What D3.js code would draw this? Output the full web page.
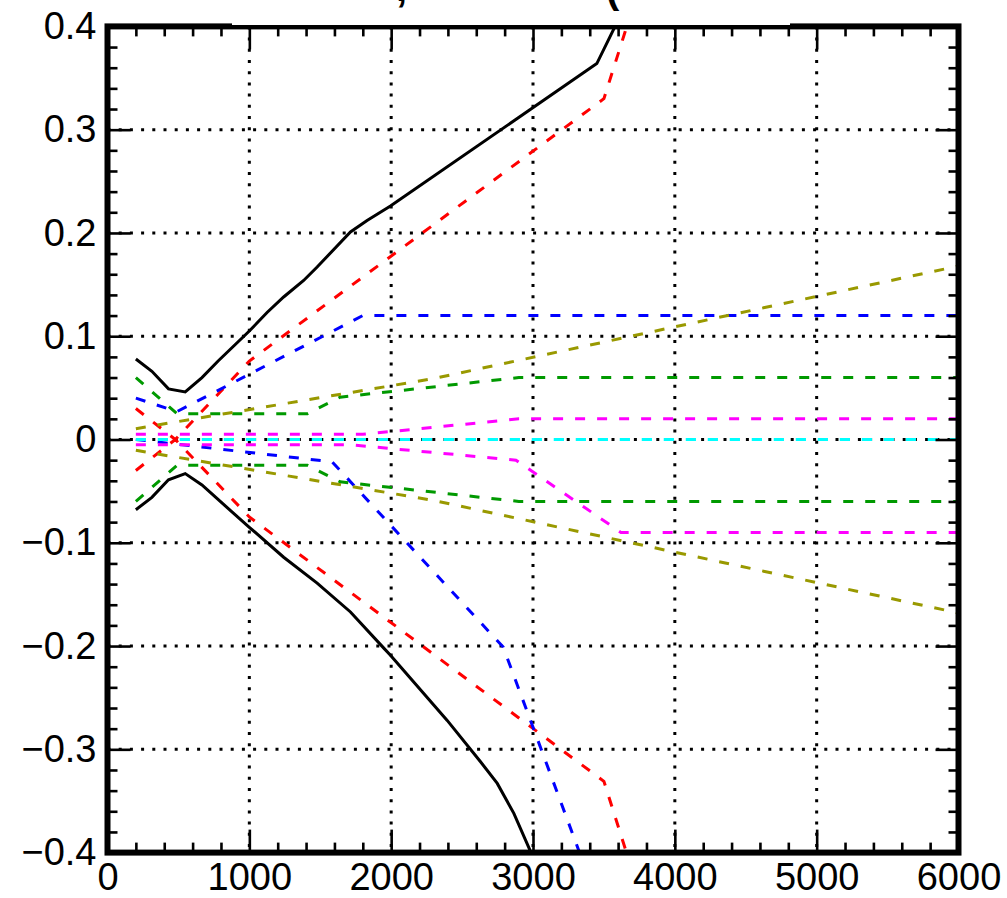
<!DOCTYPE html>
<html>
<head>
<meta charset="utf-8">
<script src="https://cdn.jsdelivr.net/npm/d3@7"></script>
<style>
  html, body { margin: 0; padding: 0; background: #fff; }
  svg { display: block; }
  text { font-family: "Liberation Sans", Arial, Helvetica, sans-serif; }
</style>
</head>
<body>
<svg id="chart" width="1007" height="898"></svg>
<script>
// Axis ticks and labels
const xMajorTicks = [0, 1000, 2000, 3000, 4000, 5000, 6000];
const yMajorTicks = [-0.4, -0.3, -0.2, -0.1, 0, 0.1, 0.2, 0.3, 0.4];
const xGridValues = [1000, 2000, 3000, 4000, 5000];
const yGridValues = [-0.3, -0.2, -0.1, 0, 0.1, 0.2, 0.3];

// Uncertainty bands: [x, relative shift]
const totalUp = [[200,0.078],[313,0.066],[430,0.049],[548,0.046],[666,0.060],[780,0.076],[1000,0.105],[1125,0.123],[1242,0.138],[1383,0.154],[1478,0.167],[1713,0.201],[1830,0.212],[1995,0.226],[3450,0.364],[3700,0.434]];
const totalDown = [[200,-0.068],[313,-0.056],[430,-0.039],[548,-0.033],[666,-0.044],[795,-0.060],[1000,-0.085],[1242,-0.114],[1478,-0.139],[1713,-0.167],[1948,-0.202],[1995,-0.209],[2395,-0.272],[2630,-0.312],[2748,-0.333],[2865,-0.362],[2983,-0.399],[3100,-0.44]];
const redUp = [[200,0.030],[478,0.0],[1000,0.076],[3500,0.330],[3650,0.395],[3750,0.44]];
const redDown = [[200,-0.030],[478,0.0],[1000,-0.075],[3500,-0.331],[3650,-0.396],[3750,-0.44]];
const blueUp = [[200,0.040],[490,0.027],[1800,0.120],[6000,0.120]];
const blueDown = [[200,0.0],[1584,-0.0217],[2790,-0.201],[3300,-0.3895],[3400,-0.427]];
const greenUp = [[200,0.060],[490,0.025],[1410,0.025],[1640,0.041],[2900,0.060],[6000,0.060]];
const greenDown = [[200,-0.060],[490,-0.025],[1410,-0.025],[1640,-0.041],[2900,-0.060],[6000,-0.060]];
const oliveUp = [[200,0.0105],[2300,0.059],[6000,0.168]];
const oliveDown = [[200,-0.0105],[2300,-0.059],[6000,-0.168]];
const magentaUp = [[200,0.005],[1800,0.005],[2900,0.020],[6000,0.020]];
const magentaDown = [[200,-0.005],[1700,-0.005],[2880,-0.020],[3620,-0.090],[6000,-0.090]];
const cyanUp = [[200,0.0],[6000,0.0]];
const cyanDown = [[200,0.0],[6000,0.0]];

const series = [
  { pts: totalUp,     color: "#000000", dash: null },
  { pts: totalDown,   color: "#000000", dash: null },
  { pts: redUp,       color: "#ff0000", dash: "10,12" },
  { pts: redDown,     color: "#ff0000", dash: "10,12" },
  { pts: blueUp,      color: "#0000ff", dash: "10,12" },
  { pts: blueDown,    color: "#0000ff", dash: "10,12" },
  { pts: greenUp,     color: "#009900", dash: "10,12" },
  { pts: greenDown,   color: "#009900", dash: "10,12" },
  { pts: oliveUp,     color: "#999900", dash: "10,12" },
  { pts: oliveDown,   color: "#999900", dash: "10,12" },
  { pts: magentaUp,   color: "#ff00ff", dash: "10,12" },
  { pts: magentaDown, color: "#ff00ff", dash: "10,12" },
  { pts: cyanUp,      color: "#00ffff", dash: "10,12" },
  { pts: cyanDown,    color: "#00ffff", dash: "10,12" }
];

const svg = d3.select("#chart");
const x = d3.scaleLinear().domain([0, 6000]).range([107.5, 958.5]);
const y = d3.scaleLinear().domain([-0.4, 0.4]).range([852.6, 26.4]);

const pLeft = x(0), pRight = x(6000), pTop = y(0.4), pBottom = y(-0.4);

// dotted grid
const grid = svg.append("g").attr("stroke", "#000").attr("stroke-width", 3).attr("stroke-dasharray", "3,8.2");
grid.selectAll("line.gx").data(xGridValues).join("line").attr("class", "gx")
  .attr("x1", d => x(d)).attr("x2", d => x(d)).attr("y1", pTop).attr("y2", pBottom);
grid.selectAll("line.gy").data(yGridValues).join("line").attr("class", "gy")
  .attr("x1", pLeft).attr("x2", pRight).attr("y1", d => y(d)).attr("y2", d => y(d));

// curves, clipped to the frame
svg.append("clipPath").attr("id", "plotArea").append("rect")
  .attr("x", pLeft).attr("y", pTop).attr("width", pRight - pLeft).attr("height", pBottom - pTop);

const line = d3.line().x(d => x(d[0])).y(d => y(d[1]));
svg.append("g").attr("clip-path", "url(#plotArea)")
  .selectAll("path").data(series).join("path")
  .attr("d", d => line(d.pts))
  .attr("fill", "none")
  .attr("stroke", d => d.color)
  .attr("stroke-width", 3)
  .attr("stroke-dasharray", d => d.dash)
  .attr("stroke-linejoin", "miter");

// tick marks on all four sides, pointing inward
const xMinor = d3.range(0, 6001, 200).filter(v => v % 1000 !== 0);
const yMinor = d3.range(-20, 21).filter(v => v % 5 !== 0).map(v => +(v * 0.02).toFixed(2));

function ticks(axisFn, translate, values, size) {
  const g = svg.append("g").attr("transform", translate)
    .call(axisFn.tickValues(values).tickSize(size).tickFormat(""));
  g.select(".domain").remove();
  g.selectAll(".tick line").attr("stroke", "#000").attr("stroke-width", 2.6);
}
ticks(d3.axisBottom(x), `translate(0,${pBottom})`, xMinor, -10);
ticks(d3.axisBottom(x), `translate(0,${pBottom})`, xMajorTicks, -23);
ticks(d3.axisTop(x), `translate(0,${pTop})`, xMinor, -10);
ticks(d3.axisTop(x), `translate(0,${pTop})`, xMajorTicks, -23);
ticks(d3.axisLeft(y), `translate(${pLeft},0)`, yMinor, -10);
ticks(d3.axisLeft(y), `translate(${pLeft},0)`, yMajorTicks, -23);
ticks(d3.axisRight(y), `translate(${pRight},0)`, yMinor, -10);
ticks(d3.axisRight(y), `translate(${pRight},0)`, yMajorTicks, -23);

// frame
svg.append("rect")
  .attr("x", pLeft).attr("y", pTop).attr("width", pRight - pLeft).attr("height", pBottom - pTop)
  .attr("fill", "none").attr("stroke", "#000").attr("stroke-width", 6);

// title box sits over the upper edge of the frame
svg.append("rect").attr("x", 232).attr("y", 0).attr("width", 558).attr("height", 25).attr("fill", "#fff");
const title = svg.append("g").attr("font-size", 40).attr("font-weight", "bold").attr("fill", "#000");
title.append("text").attr("x", 396).attr("y", 1).text(",");
title.append("text").attr("x", 606).attr("y", 3).text("(");

// axis labels
const xLab = svg.append("g").attr("transform", `translate(0,${pBottom})`)
  .call(d3.axisBottom(x).tickValues(xMajorTicks).tickSize(0).tickPadding(10.5).tickFormat(d3.format("d")));
xLab.select(".domain").remove();
xLab.selectAll("text").attr("font-size", 38).attr("font-family", "Liberation Sans, Arial, sans-serif").attr("fill", "#000");

const yFmt = d => d === 0 ? "0" : (d < 0 ? "\u2212" + Math.abs(d).toFixed(1) : d.toFixed(1));
const yLab = svg.append("g").attr("transform", `translate(${pLeft},0)`)
  .call(d3.axisLeft(y).tickValues(yMajorTicks).tickSize(0).tickPadding(11).tickFormat(yFmt));
yLab.select(".domain").remove();
yLab.selectAll("text").attr("font-size", 38).attr("font-family", "Liberation Sans, Arial, sans-serif").attr("fill", "#000");
</script>
</body>
</html>
